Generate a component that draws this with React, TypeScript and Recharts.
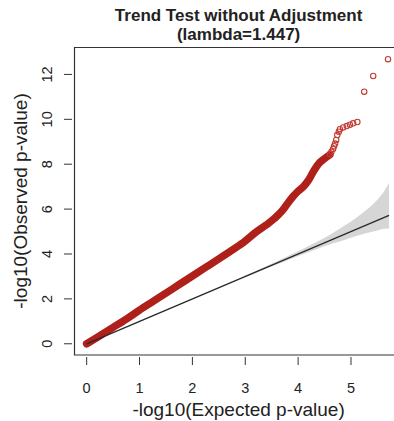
import { ComposedChart, XAxis, YAxis, Line, Area, Scatter, ReferenceArea } from "recharts";

// dense part of the QQ curve (-log10 expected vs -log10 observed)
const expectedX = [0, 0.25, 0.5, 0.75, 1, 1.25, 1.5, 1.75, 2, 2.25, 2.5, 2.75, 3, 3.2, 3.4, 3.55, 3.7, 3.8, 3.9, 4.0, 4.1, 4.2, 4.3, 4.4, 4.5, 4.6];
const observedY = [0, 0.36, 0.73, 1.1, 1.5, 1.88, 2.26, 2.64, 3.02, 3.4, 3.78, 4.17, 4.58, 4.97, 5.3, 5.58, 5.93, 6.25, 6.55, 6.8, 7.0, 7.3, 7.72, 8.05, 8.25, 8.42];

// sparse tail, drawn as open circles
const tailX = [4.6, 4.63, 4.66, 4.68, 4.7, 4.72, 4.74, 4.77, 4.79, 4.85, 4.92, 4.98, 5.04, 5.12, 5.25, 5.42, 5.7];
const tailY = [8.45, 8.55, 8.68, 8.8, 8.92, 9.08, 9.3, 9.45, 9.56, 9.64, 9.7, 9.76, 9.82, 9.88, 11.23, 11.93, 12.68];

// 95% band around the null line
const ciX = [3.0, 3.5, 4.0, 4.3, 4.5, 4.7, 4.9, 5.1, 5.3, 5.5, 5.62, 5.72];
const ciLow = [2.96, 3.44, 3.91, 4.17, 4.34, 4.5, 4.65, 4.8, 4.93, 5.05, 5.12, 5.14];
const ciHigh = [3.04, 3.57, 4.12, 4.48, 4.72, 5.0, 5.3, 5.62, 5.98, 6.42, 6.77, 7.17];

const nullX = [0, 5.72];

const xTicks = [0, 1, 2, 3, 4, 5];
const yTicks = [0, 2, 4, 6, 8, 10, 12];

const title = "Trend Test without Adjustment";
const subtitle = "(lambda=1.447)";
const xLabel = "-log10(Expected p-value)";
const yLabel = "-log10(Observed p-value)";

const FONT = "'Liberation Sans', Arial, Helvetica, sans-serif";

const bandData = expectedX.map((x, i) => ({ x, y: observedY[i] }));
const tailData = tailX.map((x, i) => ({ x, y: tailY[i] }));
const ciData = ciX.map((x, i) => ({ x, range: [ciLow[i], ciHigh[i]] }));
const nullData = nullX.map((x) => ({ x, y: x }));

const XTick = (props: any) => {
  const { x, y, payload } = props;
  return (
    <g>
      <line x1={x} x2={x} y1={y + 2} y2={y + 10} stroke="#333" strokeWidth={1} />
      <text x={x} y={y + 38} textAnchor="middle" fontSize={14.5} fill="#222" fontFamily={FONT}>
        {payload.value}
      </text>
    </g>
  );
};

const YTick = (props: any) => {
  const { x, y, payload } = props;
  const tx = x - 22;
  return (
    <g>
      <line x1={x - 10.5} x2={x - 2.5} y1={y} y2={y} stroke="#333" strokeWidth={1} />
      <text x={tx} y={y} textAnchor="middle" fontSize={14.5} fill="#222" fontFamily={FONT}
        transform={`rotate(-90, ${tx}, ${y})`}>
        {payload.value}
      </text>
    </g>
  );
};

const circle = (p: any) => (
  <circle cx={p.cx} cy={p.cy} r={2.7} fill="none" stroke="#C23A30" strokeWidth={1.1} />
);

export default function App() {
  return (
    <div style={{ position: "absolute", left: 0, top: 0, width: 394, height: 421, overflow: "hidden", background: "#fff" }}>
      <ComposedChart width={420} height={421} margin={{ top: 47.5, right: 17.2, bottom: 26, left: 14.5 }}>
        <XAxis dataKey="x" type="number" domain={[-0.23, 5.98]} ticks={xTicks} allowDataOverflow
          axisLine={false} tickLine={false} tickSize={0} tickMargin={0} height={40} tick={XTick} interval={0} />
        <YAxis type="number" domain={[-0.5, 13.2]} ticks={yTicks} allowDataOverflow
          axisLine={false} tickLine={false} tickSize={0} tickMargin={0} width={60} tick={YTick} interval={0} />
        <Area data={ciData} dataKey="range" type="monotone" fill="#D6D6D6" fillOpacity={1} stroke="none" isAnimationActive={false} />
        <Line data={bandData} dataKey="y" type="monotone" stroke="#B0201B" strokeWidth={7.5} strokeLinecap="round"
          dot={false} isAnimationActive={false} />
        <Scatter data={tailData} dataKey="y" shape={circle} isAnimationActive={false} />
        <Line data={nullData} dataKey="y" type="linear" stroke="#2a2a2a" strokeWidth={1.4} dot={false} isAnimationActive={false} />
        <ReferenceArea x1={-0.23} x2={5.98} y1={-0.5} y2={13.2} fill="none" stroke="#333" strokeWidth={1.2} ifOverflow="visible" />
      </ComposedChart>
      <svg width={394} height={421} style={{ position: "absolute", left: 0, top: 0, pointerEvents: "none" }}>
        <text x={238.6} y={21} textAnchor="middle" fontSize={17} fontWeight="bold" fill="#222" fontFamily={FONT}>{title}</text>
        <text x={238.6} y={40} textAnchor="middle" fontSize={17} fontWeight="bold" fill="#222" fontFamily={FONT}>{subtitle}</text>
        <text x={238.6} y={416} textAnchor="middle" fontSize={19} fill="#222" fontFamily={FONT}>{xLabel}</text>
        <text x={27} y={201} textAnchor="middle" fontSize={19} fill="#222" fontFamily={FONT}
          transform="rotate(-90, 27, 201)">{yLabel}</text>
      </svg>
    </div>
  );
}
